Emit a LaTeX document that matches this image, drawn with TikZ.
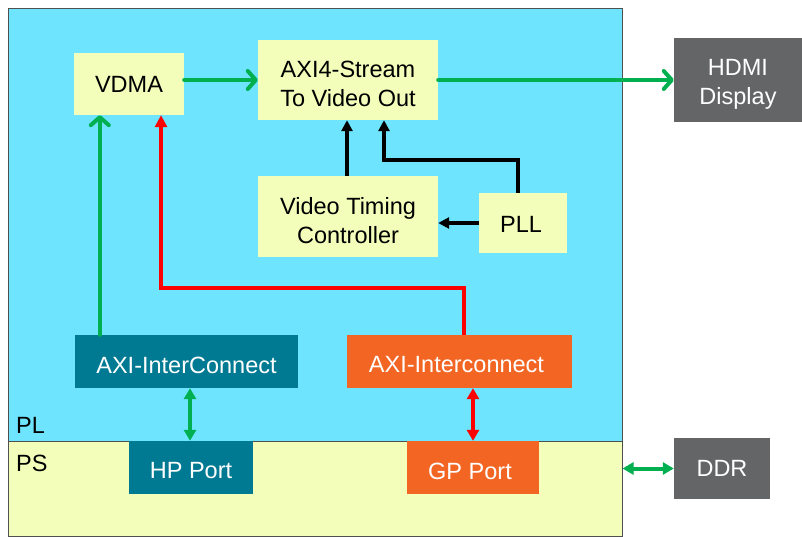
\documentclass[tikz,border=0pt]{standalone}
\usepackage{fontspec}
\setmainfont{Liberation Sans}
\usetikzlibrary{arrows.meta,calc}
\definecolor{plcyan}{HTML}{6EE4FE}
\definecolor{psyellow}{HTML}{F3FEBA}
\definecolor{boxteal}{HTML}{007A93}
\definecolor{boxorange}{HTML}{F26522}
\definecolor{boxgray}{HTML}{646567}
\definecolor{lngreen}{HTML}{00B050}
\definecolor{lnred}{HTML}{FF0000}
\definecolor{frame}{HTML}{505050}
\tikzset{
  txt/.style={font=\fontsize{23.5}{29}\selectfont},
  ipbox/.style={txt, fill=psyellow, inner sep=0pt, align=center, text=black},
  tealbox/.style={txt, fill=boxteal, inner sep=0pt, align=center, text=white},
  orangebox/.style={txt, fill=boxorange, inner sep=0pt, align=center, text=white},
  graybox/.style={txt, fill=boxgray, inner sep=0pt, align=center, text=white},
  region/.style={draw=frame, line width=1pt, inner sep=0pt},
  greenflow/.style={draw=lngreen, line width=4pt, line cap=round,
    -{Straight Barb[length=8pt,width=18pt,line cap=round,line join=round]}},
  blackflow/.style={draw=black, line width=4pt, -{Triangle[length=11pt,width=11pt]}},
  redflow/.style={draw=lnred, line width=4pt, -{Triangle[length=12pt,width=12pt]}},
  greenboth/.style={draw=lngreen, line width=4pt, {Triangle[length=11pt,width=12pt]}-{Triangle[length=11pt,width=12pt]}},
  redboth/.style={draw=lnred, line width=4pt, {Triangle[length=11pt,width=12pt]}-{Triangle[length=11pt,width=12pt]}},
}
\begin{document}
\begin{tikzpicture}[x=1pt,y=-1pt]
\useasboundingbox (0,0) rectangle (802,537);
% regions
\node[region, fill=plcyan, minimum width=614pt, minimum height=432pt] (pl) at (315,225) {};
\node[region, fill=psyellow, minimum width=614pt, minimum height=95pt] (ps) at (315,488.5) {};
\node[txt, anchor=base west, inner sep=0pt] (pllbl) at (16,433) {PL};
\node[txt, anchor=base west, inner sep=0pt] (pslbl) at (16,471) {PS};
% blocks
\node[ipbox, minimum width=110pt, minimum height=62pt] (vdma) at (129,84) {VDMA};
\node[ipbox, minimum width=180pt, minimum height=80pt] (axis) at (348,80) {};
\node[txt, inner sep=0pt, align=center] (axistxt) at (348,84) {AXI4-Stream\\To Video Out};
\node[ipbox, minimum width=180pt, minimum height=81pt] (vtc) at (348,216.5) {};
\node[txt, inner sep=0pt, align=center] (vtctxt) at (348,221) {Video Timing\\Controller};
\node[ipbox, minimum width=88pt, minimum height=60pt] (pll) at (523,223) {};
\node[txt, inner sep=0pt] (plltxt) at (521,224) {PLL};
\node[graybox, minimum width=128pt, minimum height=84pt] (hdmi) at (738,80) {};
\node[txt, inner sep=0pt, align=center, text=white] (hdmitxt) at (738,84) {HDMI\\Display};
\node[tealbox, minimum width=223pt, minimum height=53pt] (ica) at (186.5,361.5) {};
\node[txt, inner sep=0pt, text=white] (icatxt) at (186.5,365) {AXI-InterConnect};
\node[orangebox, minimum width=225pt, minimum height=53pt] (icb) at (459.5,361.5) {};
\node[txt, inner sep=0pt, text=white] (icbtxt) at (456.5,365) {AXI-Interconnect};
\node[tealbox, minimum width=124pt, minimum height=53pt] (hp) at (191,467.5) {};
\node[txt, inner sep=0pt, text=white] (hptxt) at (191,471) {HP Port};
\node[orangebox, minimum width=132pt, minimum height=53pt] (gp) at (473,467.5) {};
\node[txt, inner sep=0pt, text=white] (gptxt) at (470,471) {GP Port};
\node[graybox, minimum width=96pt, minimum height=61pt] (ddr) at (722,468.5) {};
\node[txt, inner sep=0pt, text=white] (ddrtxt) at (722,468.5) {DDR};
% bend points
\coordinate (rbend) at (161,288);
\coordinate (kbend) at (384,160);
\coordinate (hpx) at ($(hp.north)+(-1,0)$);
% connectors
\draw[greenflow] (vdma.east |- axis.west) -- (axis.west);
\draw[greenflow] (axis.east) -- (hdmi.west);
\draw[greenflow] ($(ica.north west)+(25,0)$) -- ($(vdma.south west)+(26,0)$);
\draw[redflow] ($(icb.north west)+(117.5,0)$) |- (rbend) -- (rbend |- vdma.south);
\draw[blackflow] ($(vtc.north)+(-1,0)$) -- ($(axis.south)+(-1,0)$);
\draw[blackflow] ($(pll.north)+(-5,0)$) |- (kbend) -- (kbend |- axis.south);
\draw[blackflow] (pll.west) -- (pll.west -| vtc.east);
\draw[greenboth] (hpx) -- (hpx |- ica.south);
\draw[redboth] (gp.north) -- (gp.north |- icb.south);
\draw[greenboth] (ps.east |- ddr.west) -- (ddr.west);
\end{tikzpicture}
\end{document}
